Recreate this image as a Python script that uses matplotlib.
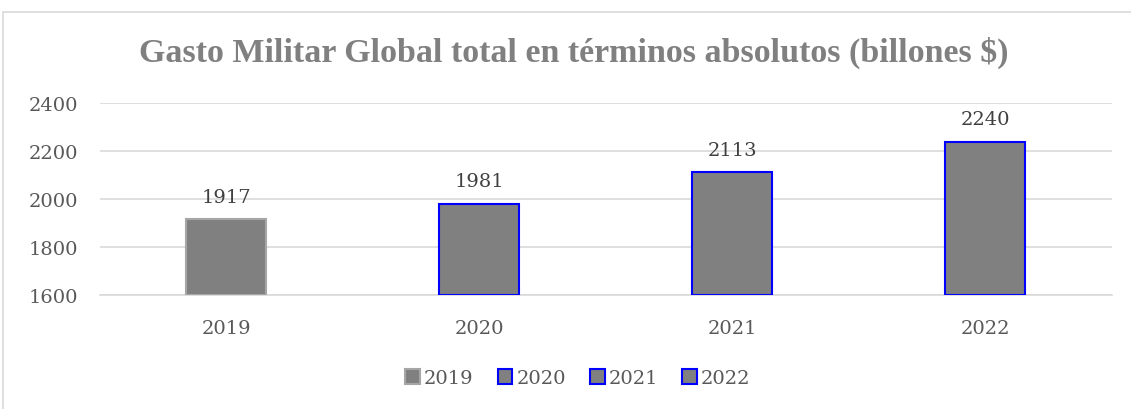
import matplotlib
matplotlib.use("Agg")
import matplotlib.pyplot as plt
from matplotlib.patches import Rectangle

years = ["2019", "2020", "2021", "2022"]
values = [1917, 1981, 2113, 2240]
edge_colors = ["#a6a6a6", "#0000ff", "#0000ff", "#0000ff"]
y_ticks = [1600, 1800, 2000, 2200, 2400]

title = "Gasto Militar Global total en términos absolutos (billones $)"

text_color = "#595959"
grid_color = "#d9d9d9"

fig = plt.figure(figsize=(11.31, 4.10), dpi=100)
ax = fig.add_axes([0.0884, 0.278, 0.8946, 0.468])

# outer chart border (runs off the right/bottom edges)
fig.patches.append(Rectangle((3 / 1131, -0.1), 1.2, 1.1 - 13 / 410,
                             transform=fig.transFigure, fill=False,
                             edgecolor=grid_color, linewidth=1.2))

handles = []
for i, (yr, val, ec) in enumerate(zip(years, values, edge_colors)):
    bars = ax.bar(i, val - 1600, bottom=1600, width=0.316, color="#808080",
                  edgecolor=ec, linewidth=1.5, label=yr, zorder=3)
    handles.append(bars)
    ax.text(i, val + 55, str(val), ha="center", va="bottom",
            fontsize=14, family="DejaVu Serif", color="#404040")

ax.set_xlim(-0.5, 3.5)
ax.set_ylim(1600, 2400)
ax.set_yticks(y_ticks)
ax.set_xticks(range(len(years)))
ax.set_xticklabels(years)
ax.tick_params(length=0, labelsize=14, labelcolor=text_color)
ax.tick_params(axis="y", pad=16)
ax.tick_params(axis="x", pad=17)
for lab in ax.get_xticklabels() + ax.get_yticklabels():
    lab.set_family("DejaVu Serif")
ax.yaxis.grid(True, color=grid_color, linewidth=1.2, zorder=0)
for side in ["left", "right", "top"]:
    ax.spines[side].set_visible(False)
ax.spines["bottom"].set_color(grid_color)
ax.spines["bottom"].set_linewidth(1.2)

fig.text(0.5075, 1 - 62 / 410, title, ha="center", va="baseline",
         fontsize=24.5, fontweight="bold", family="Liberation Serif",
         color="#808080")

fig.legend(handles=handles, labels=years, loc="center",
           bbox_to_anchor=(0.511, 0.075), ncol=4, frameon=False,
           prop={"family": "DejaVu Serif", "size": 14},
           labelcolor=text_color, handlelength=0.75, handleheight=0.75,
           handletextpad=0.2, columnspacing=1.25)

fig.savefig("out.png", dpi=100)
